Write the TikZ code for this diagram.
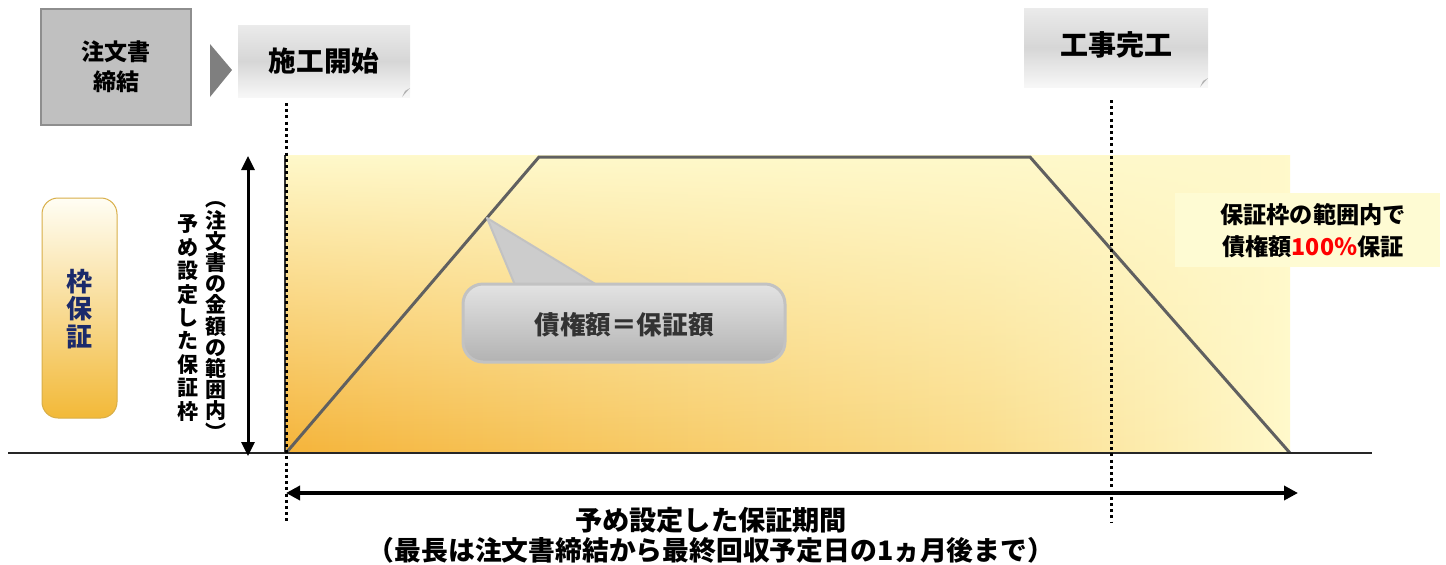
\documentclass[tikz,border=0pt]{standalone}
\usepackage{fontspec}
\newfontfamily\jp{Noto Sans CJK JP}
\usetikzlibrary{arrows.meta,calc,fadings}
\definecolor{boxgray}{HTML}{C0C0C0}
\definecolor{boxedge}{HTML}{8E8E8E}
\definecolor{tri}{HTML}{7F7F7F}
\definecolor{orange1}{HTML}{F5B43A}
\definecolor{orange2}{HTML}{F7C862}
\definecolor{orange3}{HTML}{FADD8C}
\definecolor{pale}{HTML}{FFF9CB}
\definecolor{labelbg}{HTML}{FEFBD3}
\definecolor{trapline}{HTML}{606060}
\definecolor{navy}{HTML}{1B2A6B}
\definecolor{calltext}{HTML}{333333}
\definecolor{calledge}{HTML}{C2C2C2}
\definecolor{wakutop}{HTML}{FFFEF4}
\definecolor{wakumid}{HTML}{FCEBB2}
\definecolor{wakubot}{HTML}{F2B938}
\definecolor{wakuedge}{HTML}{D8AE48}
\pgfdeclarehorizontalshading{yelshade}{100bp}{color(0bp)=(orange1); color(25bp)=(orange1); color(42bp)=(orange2); color(60bp)=(orange3); color(75bp)=(pale); color(100bp)=(pale)}
\tikzfading[name=upfade, top color=transparent!0, middle color=transparent!80, bottom color=transparent!100]
\begin{document}
\begin{tikzpicture}[x=0.5pt,y=-0.5pt,
  jptext/.style={font=\jp\bfseries, inner sep=0pt},
  phasebox/.style={top color=black!8, bottom color=black!3, middle color=black!16},
  dotline/.style={line width=1.5pt, dash pattern=on 1.5pt off 1.6pt},
  trapstyle/.style={draw=trapline, line width=1.5pt, line join=miter},
  vertarrow/.style={line width=1.5pt, {Triangle[length=7pt,width=6.5pt]}-{Triangle[length=7pt,width=6.5pt]}},
  horzarrow/.style={line width=2pt, {Triangle[length=7pt,width=7pt]}-{Triangle[length=7pt,width=7pt]}}
]
\useasboundingbox (0,0) rectangle (1446,564);

% yellow area
\shade[shading=yelshade] (286,155) rectangle (1290,453);
\fill[pale, path fading=upfade] (286,155) rectangle (1290,453);
\draw[black!80, line width=1pt] (285,155) -- (285,453);

% right label background
\fill[labelbg] (1175,193) rectangle (1440,267);

% trapezoid
\draw[trapstyle] (286,453) -- (539,157) -- (1030,157) -- (1290,453);

% baseline
\draw[black!85, line width=1pt] (8,453) -- (1372,453);

% top left boxes
\draw[fill=boxgray, draw=boxedge, line width=0.6pt] (41,9) rectangle (191,125);
\node[jptext, align=center, font=\jp\bfseries\fontsize{11.5}{15}\selectfont] (contract) at (116,67) {注文書\\締結};
\fill[tri] (210,44) -- (232,70) -- (210,97) -- cycle;

\shade[phasebox] (238,25) rectangle (410,97);
\fill[black!30] (402,97) -- (410,88) -- (405,91) -- cycle;
\node[jptext, font=\jp\bfseries\fontsize{13.8}{16}\selectfont] (start) at (324,61) {施工開始};

\shade[phasebox] (1024,8) rectangle (1208,87);
\fill[black!30] (1200,87) -- (1208,78) -- (1203,81) -- cycle;
\node[jptext, font=\jp\bfseries\fontsize{14}{16}\selectfont] (done) at (1116,45) {工事完工};

% dotted verticals
\coordinate (d1t) at (286,103);
\coordinate (d1b) at (286,523);
\coordinate (d2t) at (1111,100);
\coordinate (d2b) at (1111,523);
\draw[dotline] (d1t) -- (d1b);
\draw[dotline] (d2t) -- (d2b);

% arrows
\coordinate (va) at (248,156);
\coordinate (vb) at (248,456);
\draw[vertarrow] (va) -- (vb);
\coordinate (ha) at (286,493);
\coordinate (hb) at (1298,493);
\draw[horzarrow] (ha) -- (hb);

% waku box
\shade[rounded corners=8pt, top color=wakutop, middle color=wakumid, bottom color=wakubot]
  (42,198) rectangle (117,418);
\draw[rounded corners=8pt, draw=wakuedge, line width=0.5pt] (42,198) rectangle (117,418);
\node[jptext, text=navy, align=center, font=\jp\bfseries\fontsize{13}{13.6}\selectfont] (waku) at (79,309) {枠\\保\\証};

% vertical texts
\node[jptext, align=center, font=\jp\bfseries\fontsize{10.5}{10.6}\selectfont] (vcol1) at (216,321)
  {︵\\注\\文\\書\\の\\金\\額\\の\\範\\囲\\内\\︶};
\node[jptext, align=center, font=\jp\bfseries\fontsize{10.5}{11.7}\selectfont] (vcol2) at (187.5,318)
  {予\\め\\設\\定\\し\\た\\保\\証\\枠};

% callout
\filldraw[fill=black!20, draw=calledge, line width=1pt, line join=round] (487,218) -- (597,285) -- (515,285) -- cycle;
\shade[rounded corners=10pt, top color=black!11, middle color=black!4, bottom color=black!30]
  (463,284) rectangle (785,362);
\draw[rounded corners=10pt, draw=calledge, line width=1.5pt] (463,284) rectangle (785,362);
\node[jptext, text=calltext, font=\jp\bfseries\fontsize{12.8}{14}\selectfont] (callout) at (624,325) {債権額＝保証額};

% right label
\node[jptext, align=center, font=\jp\bfseries\fontsize{11.6}{16}\selectfont] (label) at (1313,231)
  {保証枠の範囲内で\\債権額\textcolor{red}{100％}保証};

% bottom texts
\node[jptext, font=\jp\bfseries\fontsize{13.6}{16}\selectfont] (period) at (711,520) {予め設定した保証期間};
\node[jptext, font=\jp\bfseries\fontsize{13.4}{16}\selectfont] (note) at (711,550) {（最長は注文書締結から最終回収予定日の1ヵ月後まで）};
\end{tikzpicture}
\end{document}
